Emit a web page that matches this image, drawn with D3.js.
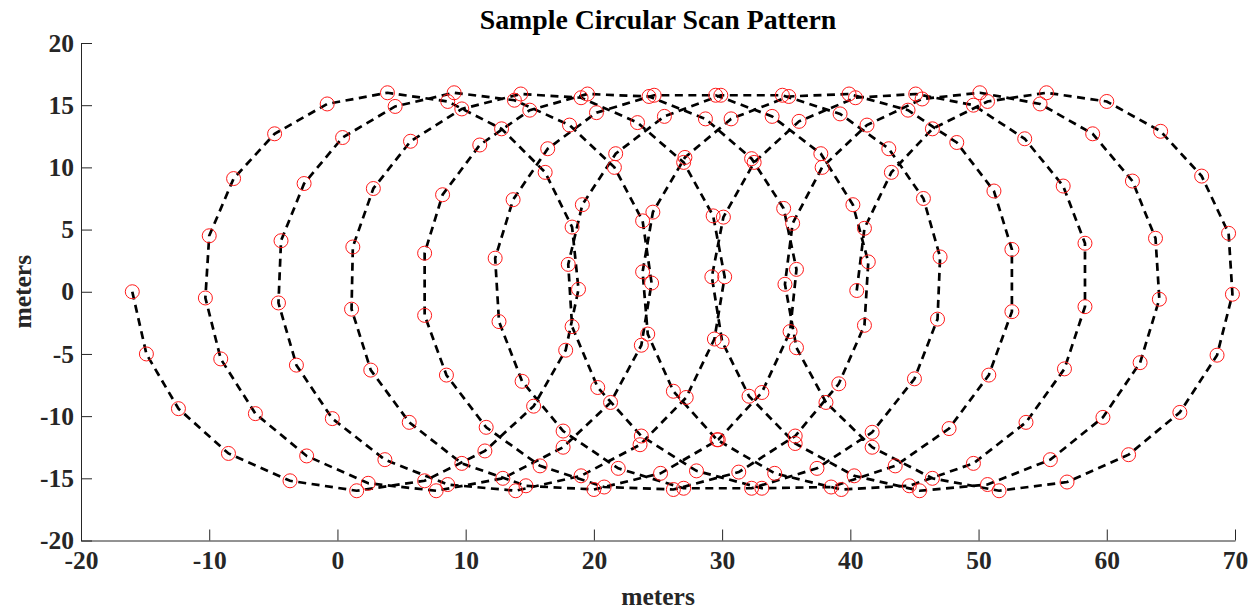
<!DOCTYPE html>
<html>
<head>
<meta charset="utf-8">
<script src="https://cdn.jsdelivr.net/npm/d3@7"></script>
<style>
  body { margin: 0; background: #ffffff; }
  text { font-family: "Liberation Serif", "Times New Roman", serif; font-weight: bold; }
</style>
</head>
<body>
<svg id="chart" width="1258" height="611"></svg>
<script>
// Scan positions in metres, one row per revolution of the scanner (20 samples each)
const scanX = [
  -16.0, -14.9, -12.4, -8.5, -3.7, 1.5, 6.8, 11.5, 15.3, 17.8, 18.8, 18.3, 16.2, 12.8, 8.6, 3.9, -0.8, -4.9, -8.1, -10.0,
  -10.3, -9.1, -6.4, -2.4, 2.4, 7.7, 12.9, 17.6, 21.3, 23.7, 24.5, 23.8, 21.6, 18.1, 13.8, 9.1, 4.5, 0.4, -2.6, -4.4,
  -4.6, -3.2, -0.4, 3.7, 8.6, 13.9, 19.0, 23.6, 27.2, 29.4, 30.2, 29.3, 27.0, 23.4, 19.0, 14.3, 9.7, 5.7, 2.8, 1.2,
  1.1, 2.6, 5.6, 9.7, 14.7, 20.0, 25.2, 29.7, 33.1, 35.3, 35.8, 34.8, 32.3, 28.7, 24.3, 19.5, 15.0, 11.1, 8.2, 6.8,
  6.8, 8.5, 11.6, 15.8, 20.8, 26.2, 31.3, 35.7, 39.1, 41.1, 41.4, 40.2, 37.7, 33.9, 29.5, 24.7, 20.2, 16.4, 13.7, 12.3,
  12.6, 14.4, 17.6, 21.9, 27.0, 32.3, 37.4, 41.7, 45.0, 46.8, 47.0, 45.7, 43.0, 39.2, 34.7, 29.9, 25.5, 21.7, 19.1, 18.0,
  18.3, 20.3, 23.7, 28.0, 33.1, 38.5, 43.5, 47.7, 50.8, 52.6, 52.6, 51.2, 48.3, 44.5, 39.9, 35.2, 30.7, 27.1, 24.6, 23.8,
  24.2, 26.2, 29.6, 34.1, 39.3, 44.6, 49.6, 53.7, 56.7, 58.3, 58.3, 56.6, 53.6, 49.6, 45.1, 40.4, 36.0, 32.5, 30.1, 29.2,
  30.0, 32.1, 35.7, 40.3, 45.4, 50.7, 55.6, 59.7, 62.6, 64.1, 63.8, 62.0, 58.9, 54.8, 50.1, 45.6, 41.3, 37.8, 35.5, 34.9,
  35.8, 38.1, 41.7, 46.4, 51.6, 56.9, 61.7, 65.7, 68.6, 69.8, 69.5, 67.4, 64.2, 60.0, 55.3, 50.7, 46.4, 43.2, 41.1, 40.5
];
const scanY = [
  0.0, -5.0, -9.4, -13.0, -15.2, -16.0, -15.2, -12.8, -9.2, -4.7, 0.2, 5.2, 9.6, 13.1, 15.3, 16.0, 15.1, 12.7, 9.1, 4.5,
  -0.5, -5.4, -9.8, -13.2, -15.4, -16.0, -15.0, -12.5, -8.9, -4.3, 0.7, 5.7, 10.0, 13.4, 15.4, 16.0, 14.9, 12.4, 8.7, 4.1,
  -0.9, -5.9, -10.2, -13.5, -15.5, -16.0, -14.8, -12.3, -8.5, -3.8, 1.2, 6.1, 10.4, 13.6, 15.6, 15.9, 14.7, 12.1, 8.3, 3.6,
  -1.4, -6.3, -10.5, -13.8, -15.6, -15.9, -14.6, -11.9, -8.1, -3.2, 1.8, 6.7, 10.7, 13.9, 15.7, 15.9, 14.6, 11.8, 7.8, 3.1,
  -1.9, -6.7, -10.9, -14.0, -15.7, -15.9, -14.5, -11.6, -7.4, -2.7, 2.4, 7.0, 11.1, 14.1, 15.8, 15.8, 14.4, 11.5, 7.4, 2.7,
  -2.4, -7.2, -11.2, -14.2, -15.8, -15.8, -14.2, -11.3, -7.0, -2.2, 2.8, 7.5, 11.5, 14.3, 15.8, 15.8, 14.1, 11.1, 7.0, 2.2,
  -2.8, -7.7, -11.6, -14.4, -15.8, -15.7, -14.0, -11.0, -6.7, -1.6, 3.4, 8.1, 12.0, 14.6, 15.9, 15.7, 13.9, 10.8, 6.4, 1.6,
  -3.4, -8.0, -11.9, -14.6, -15.9, -15.6, -13.8, -10.5, -6.2, -1.2, 3.9, 8.5, 12.3, 15.0, 15.9, 15.6, 13.7, 10.4, 6.0, 1.2,
  -4.0, -8.4, -12.2, -14.8, -16.0, -15.5, -13.5, -10.1, -5.7, -0.6, 4.3, 8.9, 12.7, 15.1, 16.0, 15.5, 13.4, 10.0, 5.5, 0.6,
  -4.5, -8.9, -12.5, -15.0, -16.0, -15.3, -13.1, -9.7, -5.1, -0.2, 4.7, 9.3, 12.9, 15.3, 16.0, 15.3, 13.1, 9.6, 5.1, 0.1
];
const xTicks = [-20, -10, 0, 10, 20, 30, 40, 50, 60, 70];
const yTicks = [-20, -15, -10, -5, 0, 5, 10, 15, 20];
const titleText = "Sample Circular Scan Pattern";
const xLabelText = "meters";
const yLabelText = "meters";

const frame = { left: 81, right: 1235, top: 43, bottom: 540.5 };
const axisColor = "#262626";
const labelSize = "25.5px";

const svg = d3.select("#chart");
const x = d3.scaleLinear().domain([-20, 70]).range([frame.left, frame.right]);
const y = d3.scaleLinear().domain([-20, 20]).range([frame.bottom, frame.top]);

const points = scanX.map((v, i) => [v, scanY[i]]);

// Axes with inward ticks
const gx = svg.append("g")
  .attr("transform", `translate(0,${frame.bottom})`)
  .call(d3.axisBottom(x).tickValues(xTicks)
    .tickSizeInner(-11).tickSizeOuter(0).tickPadding(10));
const gy = svg.append("g")
  .attr("transform", `translate(${frame.left},0)`)
  .call(d3.axisLeft(y).tickValues(yTicks)
    .tickSizeInner(-11).tickSizeOuter(0).tickPadding(7));

[gx, gy].forEach(g => {
  g.select(".domain").attr("stroke", axisColor).attr("stroke-width", 1);
  g.selectAll(".tick line").attr("stroke", axisColor).attr("stroke-width", 1);
  g.selectAll(".tick text")
    .text(d => String(d))
    .attr("fill", axisColor)
    .style("font-family", '"Liberation Serif", "Times New Roman", serif')
    .style("font-weight", "bold")
    .style("font-size", labelSize);
});

// Scan path
const line = d3.line().x(d => x(d[0])).y(d => y(d[1]));
svg.append("path")
  .datum(points)
  .attr("d", line)
  .attr("fill", "none")
  .attr("stroke", "#000000")
  .attr("stroke-width", 2.7)
  .attr("stroke-dasharray", "8,5.5");

// Sample markers
svg.append("g").selectAll("circle")
  .data(points)
  .join("circle")
  .attr("cx", d => x(d[0]))
  .attr("cy", d => y(d[1]))
  .attr("r", 7)
  .attr("fill", "none")
  .attr("stroke", "#ff1a1a")
  .attr("stroke-width", 1);

// Title and axis labels
svg.append("text")
  .attr("x", (frame.left + frame.right) / 2)
  .attr("y", 29)
  .attr("text-anchor", "middle")
  .attr("fill", "#000000")
  .style("font-size", "27.8px")
  .text(titleText);

svg.append("text")
  .attr("x", (frame.left + frame.right) / 2)
  .attr("y", 605)
  .attr("text-anchor", "middle")
  .attr("fill", axisColor)
  .style("font-size", labelSize)
  .text(xLabelText);

svg.append("text")
  .attr("transform", `translate(31,${(frame.top + frame.bottom) / 2}) rotate(-90)`)
  .attr("text-anchor", "middle")
  .attr("fill", axisColor)
  .style("font-size", labelSize)
  .text(yLabelText);
</script>
</body>
</html>
